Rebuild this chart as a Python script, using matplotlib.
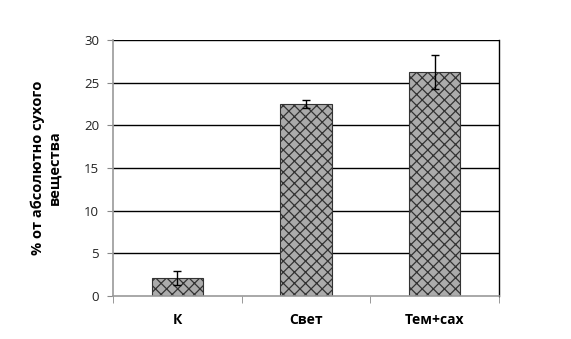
import matplotlib
matplotlib.use("Agg")
import matplotlib.pyplot as plt
import numpy as np

categories = ["К", "Свет", "Тем+сах"]
values = [2.1, 22.5, 26.3]
errors = [0.85, 0.5, 2.0]
yticks = [0, 5, 10, 15, 20, 25, 30]

plt.rcParams['font.family'] = ['Open Sans', 'DejaVu Sans']
plt.rcParams['hatch.linewidth'] = 0.9
plt.rcParams['hatch.color'] = '#333333'

fig = plt.figure(figsize=(5.71, 3.39), dpi=100)
ax = fig.add_axes([0.198, 0.127, 0.676, 0.755])

x = np.arange(len(categories))
ax.set_axisbelow(True)
for t in yticks[1:]:
    ax.axhline(t, color='black', lw=1.0, zorder=0)
ax.bar(x, values, width=0.4, color='#ababab', edgecolor='#333333', linewidth=0.8,
       hatch='xxx', zorder=2)
ax.errorbar(x, values, yerr=errors, fmt='none', ecolor='black', elinewidth=1.0,
            capsize=3, capthick=1.0, zorder=3)

ax.set_xlim(-0.5, len(categories) - 0.5)
ax.set_ylim(0, 30)
ax.set_yticks(yticks)
ax.set_yticklabels([str(t) for t in yticks], fontsize=9.5, color='#222222')
ax.set_xticks(x)
ax.set_xticklabels(categories, fontsize=10, fontweight='bold')
ax.tick_params(axis='x', length=0, pad=12)
ax.set_xticks(np.arange(-0.5, len(categories), 1.0), minor=True)
ax.tick_params(axis='x', which='minor', length=5, color='#888888', direction='out')
ax.tick_params(axis='y', length=4, color='#888888', direction='out', pad=6)

for s in ['left', 'bottom']:
    ax.spines[s].set_color('#999999')
    ax.spines[s].set_linewidth(1.2)
ax.spines['right'].set_color('black')
ax.spines['right'].set_linewidth(1.0)
ax.spines['top'].set_visible(False)

ax.set_ylabel("% от абсолютно сухого\nвещества", fontsize=10.5, fontweight='bold',
              labelpad=16, linespacing=1.25)

fig.savefig("out.png", dpi=100)
